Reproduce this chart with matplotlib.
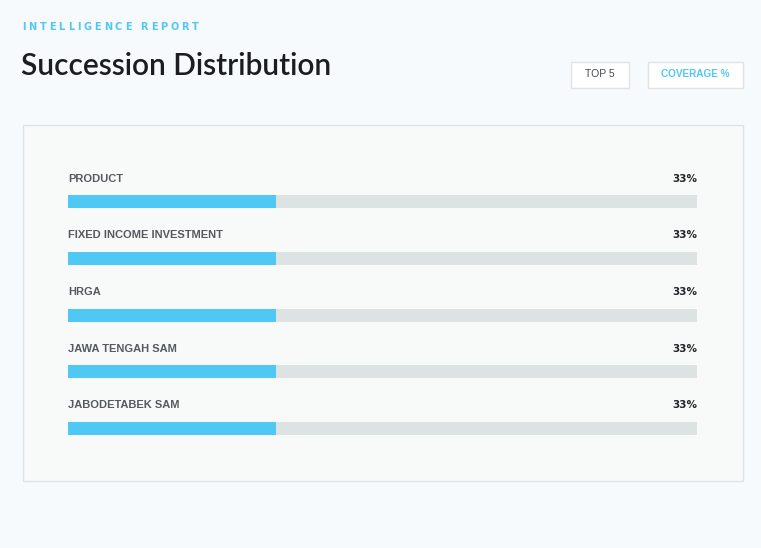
import matplotlib.pyplot as plt
from matplotlib.patches import Rectangle

# data
teams = ['PRODUCT', 'FIXED INCOME INVESTMENT', 'HRGA', 'JAWA TENGAH SAM', 'JABODETABEK SAM']
coverage = [33, 33, 33, 33, 33]
kicker = 'INTELLIGENCE REPORT'
title = 'Succession Distribution'
buttons = ['TOP 5', 'COVERAGE %']

W, H = 761, 548
BLUE = '#4fc8f4'
TRACK = '#dde2e3'

fig = plt.figure(figsize=(W / 100, H / 100), dpi=100)
fig.patch.set_facecolor('#f7fafc')

# background axes in pixel units for panel / header
bg = fig.add_axes([0, 0, 1, 1])
bg.set_xlim(0, W)
bg.set_ylim(H, 0)
bg.axis('off')

bg.add_patch(Rectangle((22.5, 125.5), 720, 356, facecolor='#e6e9ec', edgecolor='none', lw=0))
bg.add_patch(Rectangle((22.5, 124.5), 720, 356, facecolor='#f8f9f9', edgecolor='#dfe3e7', lw=1))

# letter-spaced kicker, drawn char by char
renderer = fig.canvas.get_renderer()
x = 22
track = 2.9
for ch in kicker:
    t = bg.text(x, 27, ch, fontsize=7, fontweight='bold', color=BLUE, va='center', ha='left',
                family='DejaVu Sans')
    if ch == ' ':
        w = 3.0
    else:
        w = t.get_window_extent(renderer).width
    x += w + track

bg.text(21, 66, title, fontsize=21.5, fontweight='semibold', color='#1b1d20', va='center', ha='left',
        family='Lato')

# buttons
bg.add_patch(Rectangle((570.5, 61.5), 58, 26, facecolor='#ffffff', edgecolor='#dfe3e6', lw=1))
bg.text(599.5, 74, buttons[0], fontsize=7.5, color='#444a4f', va='center', ha='center', family='Liberation Sans')
bg.add_patch(Rectangle((647.5, 61.5), 95, 26, facecolor='#ffffff', edgecolor='#dfe3e6', lw=1))
bg.text(695, 74, buttons[1], fontsize=7.2, fontweight='bold', color=BLUE, va='center', ha='center',
        family='Liberation Sans')

# bar axes: x 68..697 px, rows spaced ~56.75 px
step = 56.75
top_px = 201.5 - step / 2
bot_px = top_px + step * len(teams)
ax = fig.add_axes([68 / W, 1 - bot_px / H, (697 - 68) / W, (bot_px - top_px) / H])
ax.set_xlim(0, 100)
ax.set_ylim(len(teams) - 0.5, -0.5)
ax.axis('off')

rows = range(len(teams))
bh = 13 / step
ax.barh(rows, [100] * len(teams), height=bh, color=TRACK, left=0)
ax.barh(rows, coverage, height=bh, color=BLUE, left=0)

off = (178.5 - 201.5) / step
for i, (name, v) in enumerate(zip(teams, coverage)):
    ax.text(0, i + off, name, fontsize=8, fontweight='bold', color='#555a5e', va='center', ha='left',
            family='Liberation Sans')
    ax.text(100, i + off, f'{v}%', fontsize=7.5, fontweight='bold', color='#222427', va='center', ha='right',
            family='DejaVu Sans')

fig.savefig('out.png', dpi=100, facecolor=fig.get_facecolor())
